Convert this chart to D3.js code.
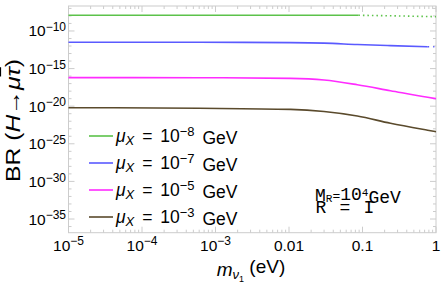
<!DOCTYPE html>
<html>
<head>
<meta charset="utf-8">
<script src="https://cdn.jsdelivr.net/npm/d3@7"></script>
<style>
  body { margin: 0; background: #fff; }
  text { font-family: "Liberation Sans", Arial, sans-serif; fill: #000; }
</style>
</head>
<body>
<svg id="chart" width="441" height="286"></svg>
<script>
// light neutrino mass (eV) vs log10 BR(H -> mu tau)
const greenSolid = [[1e-5, -7.91], [0.088, -7.91]];
const greenDotted = [[0.088, -7.91], [0.3, -8.0], [1, -8.1]];
const blueSolid = [[1e-5, -11.5], [6e-4, -11.5], [0.0105, -11.55], [0.03, -11.62], [0.085, -11.8], [0.24, -11.95], [0.77, -12.09]];
const blueDotted = [[0.77, -12.09], [0.95, -12.1]];
const magenta = [[1e-5, -16.2], [6e-4, -16.21], [0.0105, -16.3], [0.03, -16.52], [0.085, -17.15], [0.24, -17.94], [0.77, -18.82], [1, -19.0]];
const brown = [[1e-5, -20.2], [6e-4, -20.28], [0.0105, -20.42], [0.03, -20.7], [0.085, -21.3], [0.24, -22.27], [0.77, -23.2], [1, -23.4]];

const legendExponents = ["−8", "−7", "−5", "−3"];
const seriesColors = ["#5cc24a", "#5a5aff", "#ff2cff", "#5a4a2c"];
const xTickValues = [1e-5, 1e-4, 1e-3, 0.01, 0.1, 1];
const xTickLabels = [["10", "−5"], ["10", "−4"], ["10", "−3"], ["0.01", ""], ["0.1", ""], ["1", ""]];
const yTickExponents = [-10, -15, -20, -25, -30, -35];

const svg = d3.select("#chart");
const plotLeft = 68.5, plotRight = 436, plotTop = 6, plotBottom = 232.7;

const x = d3.scaleLog().domain([1e-5, 1]).range([plotLeft, plotRight]);
const y = d3.scaleLog().domain([Math.pow(10, -36.82), Math.pow(10, -6.68)]).range([plotBottom, plotTop]);

const frameColor = "#cccccc";

// frame
svg.append("rect")
    .attr("x", plotLeft).attr("y", plotTop)
    .attr("width", plotRight - plotLeft).attr("height", plotBottom - plotTop)
    .attr("fill", "none").attr("stroke", frameColor).attr("stroke-width", 1);

// x ticks (bottom + top)
let xMinor = [];
for (let e = -5; e < 0; e++) {
    for (let k = 2; k <= 9; k++) xMinor.push(k * Math.pow(10, e));
}
let tickG = svg.append("g").attr("stroke", frameColor).attr("stroke-width", 1);
xTickValues.forEach(v => {
    tickG.append("line").attr("x1", x(v)).attr("x2", x(v)).attr("y1", plotBottom).attr("y2", plotBottom - 6);
    tickG.append("line").attr("x1", x(v)).attr("x2", x(v)).attr("y1", plotTop).attr("y2", plotTop + 6);
});
xMinor.forEach(v => {
    tickG.append("line").attr("x1", x(v)).attr("x2", x(v)).attr("y1", plotBottom).attr("y2", plotBottom - 3);
    tickG.append("line").attr("x1", x(v)).attr("x2", x(v)).attr("y1", plotTop).attr("y2", plotTop + 3);
});

// y ticks (left + right), minor every decade
for (let e = -36; e <= -7; e++) {
    let major = e % 5 === 0;
    let len = major ? 6 : 3;
    let yy = y(Math.pow(10, e));
    tickG.append("line").attr("x1", plotLeft).attr("x2", plotLeft + len).attr("y1", yy).attr("y2", yy);
    tickG.append("line").attr("x1", plotRight).attr("x2", plotRight - len).attr("y1", yy).attr("y2", yy);
}

// x tick labels
xTickValues.forEach((v, i) => {
    let t = svg.append("text")
        .attr("x", x(v)).attr("y", 250.5)
        .attr("text-anchor", "middle")
        .style("font-size", "15.5px");
    t.append("tspan").text(xTickLabels[i][0]);
    if (xTickLabels[i][1]) {
        t.append("tspan").attr("dy", "-0.45em").style("font-size", "12px").text(xTickLabels[i][1]);
    }
});

// y tick labels
yTickExponents.forEach(e => {
    let t = svg.append("text")
        .attr("x", 66).attr("y", y(Math.pow(10, e)) + 5.5)
        .attr("text-anchor", "end")
        .style("font-size", "15.5px");
    t.append("tspan").text("10");
    t.append("tspan").attr("dy", "-0.45em").style("font-size", "12px").text("−" + Math.abs(e));
});

// curves
const line = d3.line()
    .x(d => x(d[0]))
    .y(d => y(Math.pow(10, d[1])))
    .curve(d3.curveMonotoneX);

const curves = [
    {data: greenSolid, color: seriesColors[0], dash: null},
    {data: greenDotted, color: seriesColors[0], dash: "1.5,3"},
    {data: blueSolid, color: seriesColors[1], dash: null},
    {data: blueDotted, color: seriesColors[1], dash: "1.5,4"},
    {data: magenta, color: seriesColors[2], dash: null},
    {data: brown, color: seriesColors[3], dash: null}
];

svg.append("g")
    .selectAll("path")
    .data(curves)
    .enter()
    .append("path")
    .attr("d", d => line(d.data))
    .attr("fill", "none")
    .attr("stroke", d => d.color)
    .attr("stroke-width", 1.6)
    .attr("stroke-dasharray", d => d.dash);

// legend
const legendY = [136, 163, 190, 217];
legendExponents.forEach((ex, i) => {
    svg.append("line")
        .attr("x1", 89).attr("x2", 113)
        .attr("y1", legendY[i]).attr("y2", legendY[i])
        .attr("stroke", seriesColors[i]).attr("stroke-width", 1.6);
    let t = svg.append("text")
        .attr("x", 116).attr("y", legendY[i] + 6)
        .style("font-size", "17.5px")
        .style("word-spacing", "3px");
    t.append("tspan").style("font-style", "italic").text("μ");
    t.append("tspan").style("font-style", "italic").style("font-size", "13px").attr("dy", "0.22em").text("X");
    t.append("tspan").attr("dy", "-0.16em").text(" = 10");
    t.append("tspan").attr("dy", "-0.45em").style("font-size", "13px").text(ex);
    t.append("tspan").attr("dy", "0.45em").text(" GeV");
});

// annotation, both lines in one text block
const mono = "Liberation Mono, DejaVu Sans Mono, monospace";
let note = svg.append("text").attr("x", 315).attr("y", 200.5)
    .style("font-family", mono).style("font-size", "18px");
note.append("tspan").text("M");
note.append("tspan").attr("dy", "0.18em").style("font-size", "11px").text("R");
note.append("tspan").attr("dy", "-0.18em").style("font-size", "13px").text("=");
note.append("tspan").text("10");
note.append("tspan").attr("dy", "-0.4em").style("font-size", "11px").text("4");
note.append("tspan").attr("dy", "0.4em").text("GeV");
note.append("tspan").attr("x", 315.5).attr("y", 212.5)
    .style("letter-spacing", "1.2px")
    .text("R = I");

// axis titles
let xt = svg.append("text").attr("x", 251).attr("y", 276)
    .attr("text-anchor", "middle").style("font-size", "19px");
xt.append("tspan").style("font-style", "italic").text("m");
xt.append("tspan").style("font-style", "italic").style("font-size", "13px").attr("dy", "0.25em").text("ν");
xt.append("tspan").style("font-size", "9px").attr("dy", "0.25em").text("1");
xt.append("tspan").attr("dy", "-0.45em").text(" (eV)");

// y title, about 123px long in the picture
let yt = svg.append("text")
    .attr("transform", "translate(20,120.5) rotate(-90)")
    .attr("text-anchor", "middle")
    .attr("textLength", 123)
    .attr("lengthAdjust", "spacingAndGlyphs")
    .style("font-size", "21px");
yt.append("tspan").text("BR (");
yt.append("tspan").style("font-style", "italic").text("H");
yt.append("tspan").text("→");
yt.append("tspan").style("font-style", "italic").text("μ");
yt.append("tspan").style("font-style", "italic").style("text-decoration", "overline").text("τ");
yt.append("tspan").text(")");
</script>
</body>
</html>
